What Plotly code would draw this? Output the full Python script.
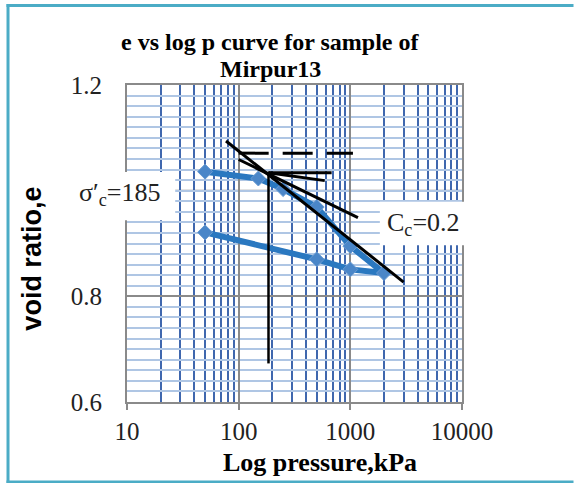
import plotly.graph_objects as go

# Oedometer test: pressure (kPa) and void ratio, loading then unloading
pressure = [50, 150, 250, 500, 1000, 2000, 1000, 500, 50]
void_ratio = [1.036, 1.023, 1.003, 0.969, 0.895, 0.844, 0.851, 0.870, 0.921]

# Casagrande construction for preconsolidation pressure
sigma_c = 185
cc_p, cc_e = [77, 3000], [1.094, 0.827]            # virgin compression line
tan_p, tan_e = [100, 1170], [1.059, 0.949]         # tangent at max curvature
hor_p, hor_e = [sigma_c, 680], [1.034, 1.034]      # horizontal line
bis_p, bis_e = [sigma_c, 590], [1.034, 1.019]      # bisector
ver_p, ver_e = [sigma_c, sigma_c], [1.036, 0.673]  # vertical at sigma'c
e0_p, e0_e = [100, 1055], [1.071, 1.071]           # initial void ratio level

x_ticks = [10, 100, 1000, 10000]
x_ticktext = ["10", "100", "1000", "10000"]
# the 1.0 label sits under the sigma'c label box, so only these are printed
y_ticks = [0.6, 0.8, 1.2]
y_ticktext = ["0.6", "0.8", "1.2"]
y_major_hidden = 1.0

W, H = 574, 483
L, R, T, B = 126.7, 462.3, 85.0, 401.7


def px(x):
    return (x - L) / (R - L)


def py(y):
    return (B - y) / (B - T)


SERIF = "Liberation Serif"
SANS = "Liberation Sans"
GRID_MAJOR = "#8A8A8A"
FRAME = "#4BACC6"

fig = go.Figure()
fig.add_trace(go.Scatter(
    x=pressure, y=void_ratio, mode="lines+markers",
    line=dict(color="#2A78C0", width=6),
    marker=dict(symbol="diamond", size=11.5, color="#4A86C8",
                line=dict(color="#6A9BD2", width=1)),
    hoverinfo="skip", showlegend=False))

for xs, ys, w, dash in [
    (cc_p, cc_e, 3, "solid"),
    (tan_p, tan_e, 3, "solid"),
    (hor_p, hor_e, 3, "solid"),
    (bis_p, bis_e, 3, "solid"),
    (ver_p, ver_e, 2.5, "solid"),
    (e0_p, e0_e, 3, "30px,14px"),
]:
    fig.add_trace(go.Scatter(x=xs, y=ys, mode="lines",
                             line=dict(color="black", width=w, dash=dash),
                             hoverinfo="skip", showlegend=False))

fig.update_xaxes(
    type="log", range=[1, 4],
    tickvals=x_ticks, ticktext=x_ticktext,
    ticks="outside", ticklen=6, tickwidth=2, tickcolor=GRID_MAJOR,
    tickfont=dict(family=SERIF, size=25, color="#222"),
    showgrid=True, gridcolor=GRID_MAJOR, gridwidth=2,
    minor=dict(dtick="D1", showgrid=True, gridcolor="#3F67AE", gridwidth=2, ticks=""),
    showline=True, linecolor=GRID_MAJOR, linewidth=2, mirror=True,
    zeroline=False,
)
fig.update_yaxes(
    range=[0.6, 1.2],
    tickvals=y_ticks, ticktext=y_ticktext, ticks="",
    ticklabelstandoff=18,
    tickfont=dict(family=SERIF, size=25, color="#222"),
    showgrid=True, gridcolor=GRID_MAJOR, gridwidth=2,
    minor=dict(dtick=0.02, showgrid=True, gridcolor="#AFC6E4", gridwidth=2, ticks=""),
    showline=True, linecolor=GRID_MAJOR, linewidth=2, mirror=True,
    zeroline=False,
)


def frame_line(x0, y0, x1, y1):
    return dict(type="line", xref="paper", yref="paper", layer="above",
                x0=px(x0), y0=py(y0), x1=px(x1), y1=py(y1),
                line=dict(color=FRAME, width=3))


shapes = [
    # major gridline whose label is not printed
    dict(type="line", xref="paper", yref="y", layer="between",
         x0=0, x1=1, y0=y_major_hidden, y1=y_major_hidden,
         line=dict(color=GRID_MAJOR, width=2)),
    # label backgrounds
    dict(type="rect", xref="paper", yref="paper", layer="above",
         x0=px(66), x1=px(175), y0=py(220), y1=py(172),
         fillcolor="white", line=dict(width=0)),
    dict(type="rect", xref="paper", yref="paper", layer="above",
         x0=px(380), x1=px(470), y0=py(245), y1=py(201.7),
         fillcolor="white", line=dict(width=0)),
    # chart frame: left, top and bottom edges
    frame_line(7.5, 4.0, 7.5, 483.0),
    frame_line(6.0, 5.5, 574.0, 5.5),
    frame_line(6.0, 481.5, 574.0, 481.5),
]

annotations = [
    dict(text="<b>e vs log p curve for sample of</b>",
         x=px(270), y=py(42), font=dict(family=SERIF, size=24, color="black")),
    dict(text="<b>Mirpur13</b>",
         x=px(270), y=py(69), font=dict(family=SERIF, size=24, color="black")),
    dict(text="<b>Log pressure,kPa</b>",
         x=px(320), y=py(462), font=dict(family=SERIF, size=26, color="black")),
    dict(text="<b>void ratio,e</b>", textangle=-90,
         x=px(32), y=py(258), font=dict(family=SANS, size=27, color="black")),
    dict(text="σ′<sub>c</sub>=185",
         x=px(119), y=py(194), font=dict(family=SERIF, size=26, color="#222")),
    dict(text="C<sub>c</sub>=0.2",
         x=px(424), y=py(224), font=dict(family=SERIF, size=26, color="#222")),
]
for a in annotations:
    a.update(xref="paper", yref="paper", showarrow=False,
             xanchor="center", yanchor="middle")

fig.update_layout(
    width=W, height=H, autosize=False,
    margin=dict(l=L, r=W - R, t=T, b=H - B, pad=0),
    paper_bgcolor="white", plot_bgcolor="white",
    shapes=shapes, annotations=annotations,
)

fig.write_html("out.html")
